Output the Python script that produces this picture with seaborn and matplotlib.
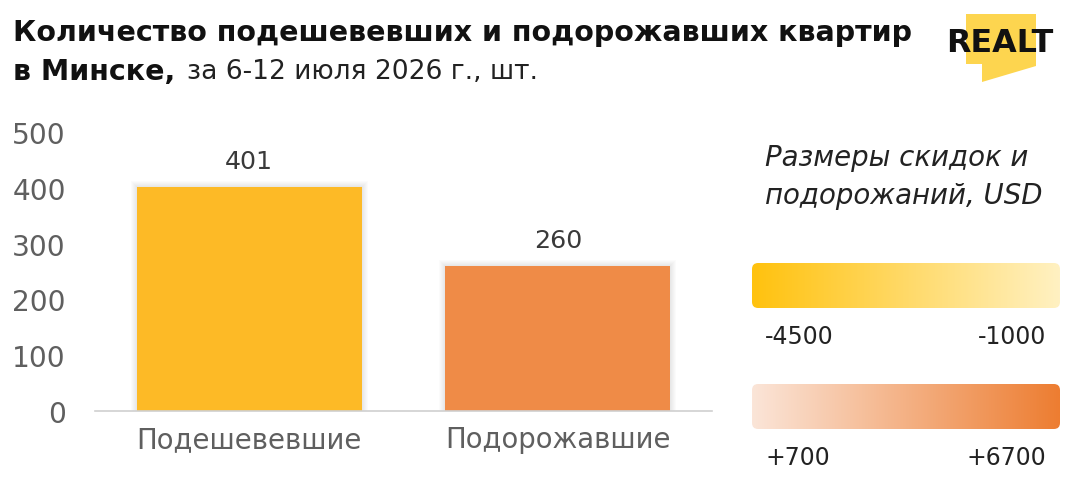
import numpy as np
import pandas as pd
import matplotlib
matplotlib.use("Agg")
import matplotlib.pyplot as plt
import seaborn as sns
from matplotlib.patches import FancyBboxPatch, Polygon, Rectangle
from matplotlib.colors import LinearSegmentedColormap

# data
categories = ["Подешевевшие", "Подорожавшие"]
counts = [401, 260]
bar_colors = ["#FDBA26", "#EF8B47"]
y_ticks = [0, 100, 200, 300, 400, 500]
cheaper_range = ["-4500", "-1000"]
pricier_range = ["+700", "+6700"]

sns.set_theme(style="white")
plt.rcParams["font.family"] = ["DejaVu Sans"]

W, H = 1080, 489
fig = plt.figure(figsize=(W / 100, H / 100), dpi=100)
renderer = fig.canvas.get_renderer()


def fx(px):
    return px / W


def fy(py):
    return 1 - py / H


def fit_size(s, width_px, **kw):
    # font size so that the string s is width_px wide
    t = fig.text(0, 0, s, fontsize=10, **kw)
    w = t.get_window_extent(renderer).width
    t.remove()
    return 10 * width_px / w


# main bar axes
ax = fig.add_axes([fx(95), fy(412), fx(712 - 95), (412 - 133) / H])
df = pd.DataFrame({"cat": categories, "n": counts})
sns.barplot(data=df, x="cat", y="n", hue="cat", palette=bar_colors,
            width=0.73, legend=False, ax=ax, saturation=1, zorder=3,
            linewidth=0)
ax.set_xlim(-0.5, 1.5)
ax.set_ylim(0, 500)
ax.set_yticks(y_ticks)
ax.set_yticklabels([str(t) for t in y_ticks])
ax.set_xlabel("")
ax.set_ylabel("")
tick_fs = fit_size("500", 53)
xlab_fs = fit_size(categories[0], 225)
ax.tick_params(axis="y", length=0, pad=21, labelsize=tick_fs, labelcolor="#5f5f5f")
ax.tick_params(axis="x", length=0, pad=10, labelsize=xlab_fs, labelcolor="#5f5f5f")
for s in ["top", "right", "left"]:
    ax.spines[s].set_visible(False)
ax.spines["bottom"].set_color("#d0d0d0")
ax.spines["bottom"].set_linewidth(1.2)
ax.spines["bottom"].set_zorder(4)

# soft shadows behind bars + value labels
px_x = 2.0 / (712 - 95)
px_y = 500 / (412 - 133)
val_fs = fit_size("401", 48)
for p in list(ax.patches):
    x0, w, h = p.get_x(), p.get_width(), p.get_height()
    for i in range(1, 7):
        ax.add_patch(Rectangle((x0 - i * px_x, 0), w + 2 * i * px_x, h + i * px_y,
                               color="black", alpha=0.016, lw=0, zorder=2))
    ax.text(x0 + w / 2, h + 47, str(int(h)), ha="center", va="center",
            fontsize=val_fs, color="#3a3a3a")

# title
title_fs = fit_size("Количество подешевевших и подорожавших квартир", 901,
                    fontweight="bold")
fig.text(fx(13), fy(33), "Количество подешевевших и подорожавших квартир",
         fontsize=title_fs, fontweight="bold", color="#111111", va="center")
fig.text(fx(13), fy(72), "в Минске,", fontsize=title_fs, fontweight="bold",
         color="#111111", va="center")
sub_fs = fit_size("за 6-12 июля 2026 г., шт.", 350)
fig.text(fx(187), fy(72), "за 6-12 июля 2026 г., шт.", fontsize=sub_fs,
         color="#222222", va="center")

# logo
logo = Polygon([(fx(966), fy(15)), (fx(1036), fy(15)), (fx(1036), fy(67)),
                (fx(982), fy(83)), (fx(982), fy(65)), (fx(966), fy(65))],
               closed=True, transform=fig.transFigure, color="#FDD54F", lw=0)
fig.patches.append(logo)
logo_fs = fit_size("REALT", 108, fontweight="bold")
fig.text(fx(1000), fy(43), "REALT", fontsize=logo_fs, fontweight="bold",
         color="#111111", ha="center", va="center")

# legend text
leg_fs = fit_size("Размеры скидок и", 263, style="italic")
fig.text(fx(765), fy(158), "Размеры скидок и", fontsize=leg_fs, style="italic",
         color="#222222", va="center")
fig.text(fx(765), fy(196), "подорожаний, USD", fontsize=leg_fs, style="italic",
         color="#222222", va="center")


def grad_bar(y_top, y_bot, c0, c1):
    gax = fig.add_axes([fx(752), fy(y_bot), fx(1060 - 752), (y_bot - y_top) / H])
    cmap = LinearSegmentedColormap.from_list("g", [c0, c1])
    im = gax.imshow(np.linspace(0, 1, 256)[None, :], aspect="auto", cmap=cmap,
                    extent=[0, 1, 0, 1])
    clip = FancyBboxPatch((0, 0), 1, 1, boxstyle="round,pad=0,rounding_size=0.02",
                          transform=gax.transAxes, fc="none", ec="none",
                          mutation_aspect=6.8)
    gax.add_patch(clip)
    im.set_clip_path(clip)
    gax.set_xlim(0, 1)
    gax.set_ylim(0, 1)
    gax.axis("off")


rng_fs = fit_size("-4500", 68)
grad_bar(264, 309, "#FFC20E", "#FFF1C2")
fig.text(fx(765), fy(337), cheaper_range[0], fontsize=rng_fs, color="#222222", va="center")
fig.text(fx(1046), fy(337), cheaper_range[1], fontsize=rng_fs, color="#222222",
         va="center", ha="right")

grad_bar(385, 430, "#FBE5D8", "#ED7D31")
fig.text(fx(765), fy(458), pricier_range[0], fontsize=rng_fs, color="#222222", va="center")
fig.text(fx(1046), fy(458), pricier_range[1], fontsize=rng_fs, color="#222222",
         va="center", ha="right")

fig.savefig("out.png", dpi=100, facecolor="white")
